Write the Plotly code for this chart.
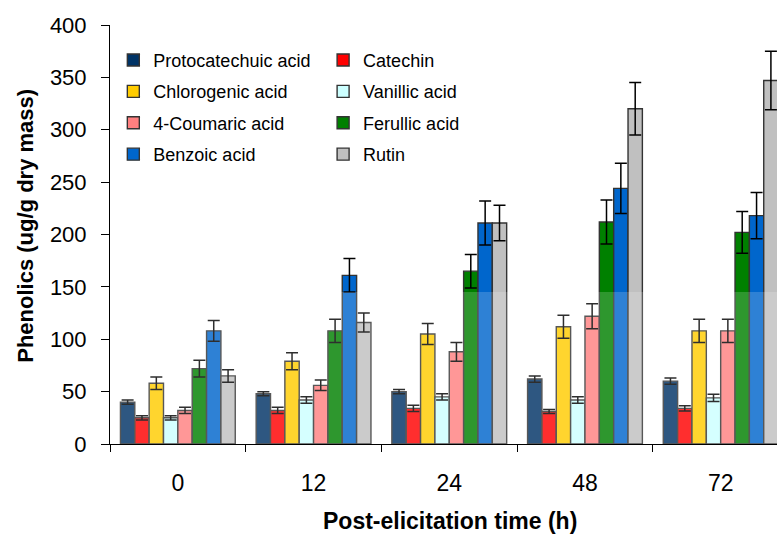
import plotly.graph_objects as go

# Sampling times after elicitation (h)
times = ["0", "12", "24", "48", "72"]

# Phenolic content (ug/g dry mass) per compound, with standard errors
protocatechuic = [40, 48, 50, 62, 60]
catechin = [25, 32, 34, 31, 34]
chlorogenic = [58, 79, 105, 112, 108]
vanillic = [25, 42, 45, 42, 44]
coumaric = [32, 56, 88, 122, 108]
ferulic = [72, 108, 165, 212, 202]
benzoic = [108, 161, 211, 244, 218]
rutin = [65, 116, 211, 320, 347]

err_protocatechuic = [2, 2, 2, 3, 3]
err_catechin = [2, 3, 3, 2, 2.5]
err_chlorogenic = [6, 8, 10, 11, 11]
err_vanillic = [2, 3, 3, 3, 3.5]
err_coumaric = [3, 5, 9, 12, 11]
err_ferulic = [8, 11, 16, 21, 20]
err_benzoic = [10, 16, 21, 24, 22]
err_rutin = [6, 9, 17, 25, 28]

series = [
    ("Protocatechuic acid", protocatechuic, err_protocatechuic, "#003366", "legend"),
    ("Catechin", catechin, err_catechin, "#FF0000", "legend2"),
    ("Chlorogenic acid", chlorogenic, err_chlorogenic, "#FFCC00", "legend"),
    ("Vanillic acid", vanillic, err_vanillic, "#CCFFFF", "legend2"),
    ("4-Coumaric acid", coumaric, err_coumaric, "#FF8080", "legend"),
    ("Ferullic acid", ferulic, err_ferulic, "#008000", "legend2"),
    ("Benzoic acid", benzoic, err_benzoic, "#0066CC", "legend"),
    ("Rutin", rutin, err_rutin, "#C0C0C0", "legend2"),
]

FONT = "Liberation Sans, Arial, Helvetica, sans-serif"

fig = go.Figure()
for name, vals, errs, color, leg in series:
    fig.add_trace(go.Bar(
        name=name,
        x=times,
        y=vals,
        marker=dict(color=color, line=dict(color="#333333", width=1.4)),
        error_y=dict(type="data", array=errs, visible=True,
                     color="#000000", thickness=1.5, width=6),
        legend=leg,
        legendgroup=name,
    ))

legend_style = dict(
    yanchor="top",
    xanchor="left",
    bgcolor="rgba(0,0,0,0)",
    font=dict(family=FONT, size=18, color="#000000"),
    tracegroupgap=5,
    itemclick=False,
    itemdoubleclick=False,
)

fig.update_layout(
    width=777,
    height=536,
    margin=dict(l=110, r=0, t=25, b=92),
    paper_bgcolor="white",
    plot_bgcolor="white",
    barmode="group",
    bargap=0.154,
    bargroupgap=0,
    font=dict(family=FONT, color="#000000"),
    legend=dict(x=0.005, y=0.96, **legend_style),
    legend2=dict(x=0.3195, y=0.96, **legend_style),
    xaxis=dict(
        type="category",
        range=[-0.5, 4.415],
        tickson="boundaries",
        ticks="outside",
        ticklen=7,
        tickcolor="#000000",
        showline=True,
        linecolor="#000000",
        linewidth=1,
        showgrid=False,
        tickfont=dict(family=FONT, size=23, color="#000000"),
        ticklabelstandoff=18,
    ),
    yaxis=dict(
        range=[0, 400],
        tickvals=[0, 50, 100, 150, 200, 250, 300, 350, 400],
        ticks="outside",
        ticklen=8,
        tickcolor="#000000",
        showline=True,
        linecolor="#000000",
        linewidth=1,
        showgrid=False,
        zeroline=False,
        tickfont=dict(family=FONT, size=22, color="#000000"),
        ticklabelstandoff=10,
    ),
    annotations=[
        dict(text="<b>Post-elicitation time (h)</b>", xref="paper", yref="paper",
             x=0.51, y=-0.184, xanchor="center", yanchor="middle", showarrow=False,
             font=dict(family=FONT, size=23, color="#000000")),
        dict(text="<b>Phenolics (ug/g dry mass)</b>", xref="paper", yref="paper",
             x=-0.128, y=0.52, xanchor="center", yanchor="middle", showarrow=False,
             textangle=-90, font=dict(family=FONT, size=22, color="#000000")),
    ],
    shapes=[
        # light haze over the lower band of the plot
        dict(type="rect", xref="paper", yref="y", x0=0, x1=1, y0=0, y1=145,
             fillcolor="white", opacity=0.18, line=dict(width=0), layer="above"),
    ],
)

fig.write_html("out.html")
